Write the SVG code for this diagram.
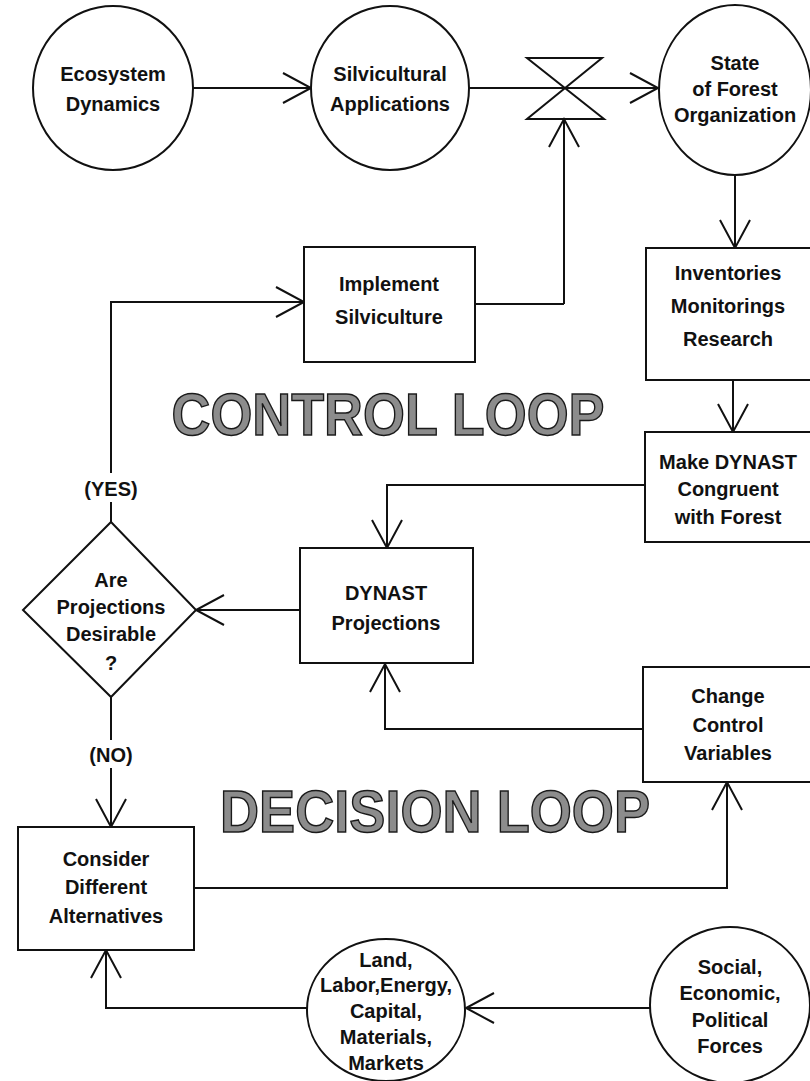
<svg xmlns="http://www.w3.org/2000/svg" width="810" height="1081" viewBox="0 0 810 1081">
<style>
.n{fill:#fff;stroke:#111;stroke-width:2}
.t{font-family:"Liberation Sans",Arial,sans-serif;font-weight:bold;font-size:20px;fill:#111;text-anchor:middle}
.c{fill:none;stroke:#111;stroke-width:2}
.big{font-family:"Liberation Sans",Arial,sans-serif;font-weight:bold;font-size:59px;fill:#8c8c8c;stroke:#1a1a1a;stroke-width:1.5;text-anchor:middle}
</style>
<defs>
<marker id="ah" markerUnits="userSpaceOnUse" markerWidth="40" markerHeight="40" refX="30" refY="20" orient="auto" overflow="visible">
<path d="M2,5 L30,20 L2,35" fill="none" stroke="#111" stroke-width="2"/>
</marker>
</defs>
<rect width="810" height="1081" fill="#fff"/>
<g id="connectors">
<path class="c" d="M193,88 L311,88" marker-end="url(#ah)"/>
<path class="c" d="M469,88 L658,88" marker-end="url(#ah)"/>
<path class="c" d="M527,58 L602,58 L527,119 L604,119 Z"/>
<path class="c" d="M564,304 L564,119" marker-end="url(#ah)"/>
<path class="c" d="M475,304 L564,304"/>
<path class="c" d="M735,176 L735,248" marker-end="url(#ah)"/>
<path class="c" d="M733,380 L733,432" marker-end="url(#ah)"/>
<path class="c" d="M645,485 L387,485 L387,548" marker-end="url(#ah)"/>
<path class="c" d="M300,610 L196,610" marker-end="url(#ah)"/>
<path class="c" d="M111,522 L111,502"/>
<path class="c" d="M111,473 L111,302 L304,302" marker-end="url(#ah)"/>
<path class="c" d="M111,697 L111,740"/>
<path class="c" d="M111,768 L111,827" marker-end="url(#ah)"/>
<path class="c" d="M194,888 L727,888 L727,782" marker-end="url(#ah)"/>
<path class="c" d="M643,729 L385,729 L385,664" marker-end="url(#ah)"/>
<path class="c" d="M652,1008 L466,1008" marker-end="url(#ah)"/>
<path class="c" d="M307,1008 L106,1008 L106,950" marker-end="url(#ah)"/>
</g>
<g id="ecosystem">
<ellipse class="n" cx="113" cy="88" rx="80" ry="82"/>
<text class="t" x="113" y="81">Ecosystem</text>
<text class="t" x="113" y="111">Dynamics</text>
</g>
<g id="silvicultural">
<ellipse class="n" cx="390" cy="88" rx="79" ry="82"/>
<text class="t" x="390" y="81">Silvicultural</text>
<text class="t" x="390" y="111">Applications</text>
</g>
<g id="state">
<ellipse class="n" cx="735" cy="90" rx="76" ry="85"/>
<text class="t" x="735" y="70">State</text>
<text class="t" x="735" y="96">of Forest</text>
<text class="t" x="735" y="122">Organization</text>
</g>
<g id="implement">
<rect class="n" x="304" y="247" width="171" height="115"/>
<text class="t" x="389" y="291">Implement</text>
<text class="t" x="389" y="324">Silviculture</text>
</g>
<g id="inventories">
<rect class="n" x="646" y="248" width="170" height="132"/>
<text class="t" x="728" y="280">Inventories</text>
<text class="t" x="728" y="313">Monitorings</text>
<text class="t" x="728" y="346">Research</text>
</g>
<g id="make">
<rect class="n" x="645" y="432" width="170" height="110"/>
<text class="t" x="728" y="469">Make DYNAST</text>
<text class="t" x="728" y="496">Congruent</text>
<text class="t" x="728" y="524">with Forest</text>
</g>
<g id="projections">
<rect class="n" x="300" y="548" width="173" height="115"/>
<text class="t" x="386" y="600">DYNAST</text>
<text class="t" x="386" y="630">Projections</text>
</g>
<g id="decision">
<polygon class="n" points="111,522 196,610 111,697 23,610"/>
<text class="t" x="111" y="587">Are</text>
<text class="t" x="111" y="614">Projections</text>
<text class="t" x="111" y="641">Desirable</text>
<text class="t" x="111" y="670">?</text>
</g>
<text class="t" x="111" y="496">(YES)</text>
<text class="t" x="111" y="762">(NO)</text>
<g id="consider">
<rect class="n" x="18" y="827" width="176" height="123"/>
<text class="t" x="106" y="866">Consider</text>
<text class="t" x="106" y="894">Different</text>
<text class="t" x="106" y="923">Alternatives</text>
</g>
<g id="change">
<rect class="n" x="643" y="667" width="172" height="115"/>
<text class="t" x="728" y="703">Change</text>
<text class="t" x="728" y="732">Control</text>
<text class="t" x="728" y="760">Variables</text>
</g>
<g id="land">
<ellipse class="n" cx="386" cy="1010" rx="79" ry="71"/>
<text class="t" x="386" y="967">Land,</text>
<text class="t" x="386" y="992">Labor,Energy,</text>
<text class="t" x="386" y="1018">Capital,</text>
<text class="t" x="386" y="1044">Materials,</text>
<text class="t" x="386" y="1070">Markets</text>
</g>
<g id="social">
<ellipse class="n" cx="730" cy="1005" rx="80" ry="78"/>
<text class="t" x="730" y="974">Social,</text>
<text class="t" x="730" y="1000">Economic,</text>
<text class="t" x="730" y="1027">Political</text>
<text class="t" x="730" y="1053">Forces</text>
</g>
<text class="big" x="388" y="435" textLength="433" lengthAdjust="spacingAndGlyphs">CONTROL LOOP</text>
<text class="big" x="435" y="832" textLength="430" lengthAdjust="spacingAndGlyphs">DECISION LOOP</text>
</svg>
